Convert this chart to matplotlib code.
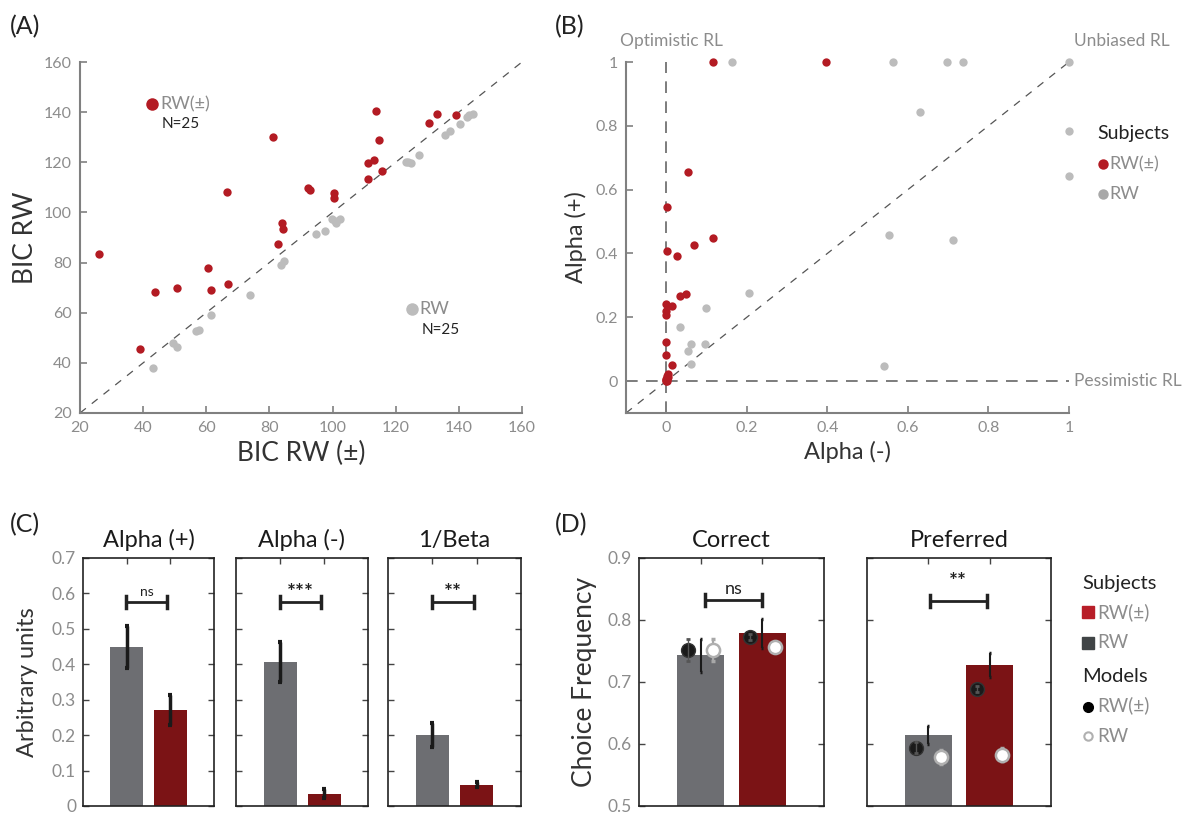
import numpy as np
import matplotlib
matplotlib.use('Agg')
import matplotlib.pyplot as plt

plt.rcParams['font.family'] = ['Lato', 'DejaVu Sans']

# ---- data ----
# (A) BIC, x = RW(+-), y = RW
a_red_x = [26.1, 39.0, 43.8, 50.8, 60.5, 61.6, 66.6, 66.9, 81.1, 82.8, 84.0, 84.3, 92.2,
           92.9, 100.4, 100.4, 111.1, 111.1, 113.1, 113.7, 114.7, 115.6, 130.5, 133.1, 139.1]
a_red_y = [83.4, 45.4, 68.4, 70.0, 77.7, 69.2, 108.3, 71.3, 130.0, 87.5, 95.9, 93.5, 109.9,
           108.8, 107.9, 105.9, 119.8, 113.2, 121.0, 140.6, 128.7, 116.4, 135.6, 139.4, 139.0]
a_gray_x = [43.2, 49.5, 50.8, 56.8, 57.6, 61.5, 74.0, 83.8, 84.7, 94.7, 97.7, 99.7, 101.0,
            102.2, 100.8, 123.1, 124.0, 124.7, 127.4, 135.6, 137.2, 140.5, 142.6, 143.3, 144.4]
a_gray_y = [38.1, 48.1, 46.4, 52.9, 53.2, 59.0, 67.2, 78.9, 80.6, 91.3, 92.6, 97.4, 95.7,
            97.4, 96.5, 120.3, 120.0, 119.6, 123.1, 130.7, 132.3, 135.4, 138.0, 139.0, 139.4]

# (B) learning rates, x = alpha(-), y = alpha(+)
b_red_x = [0.115, 0.396, 0.054, 0.001, 0.115, 0.069, 0.003, 0.026, 0.034, 0.048, 0.0, 0.015, 0.0,
           0.0, 0.0, 0.0, 0.015, 0.005, 0.004, 0.0, 0.0, 0.002, 0.0, 0.003, 0.001]
b_red_y = [1.0, 1.0, 0.655, 0.546, 0.447, 0.428, 0.409, 0.392, 0.268, 0.274, 0.243, 0.236, 0.220,
           0.206, 0.124, 0.081, 0.051, 0.021, 0.013, 0.005, 0.0, 0.007, 0.002, 0.016, 0.0]
b_gray_x = [0.163, 0.564, 0.697, 0.736, 1.0, 0.629, 1.0, 1.0, 0.552, 0.711, 0.206, 0.099,
            0.034, 0.062, 0.095, 0.054, 0.062, 0.541]
b_gray_y = [1.0, 1.0, 1.0, 1.0, 1.0, 0.842, 0.784, 0.644, 0.459, 0.443, 0.277, 0.229,
            0.171, 0.115, 0.115, 0.093, 0.055, 0.048]

# (C) parameters
c_titles = ['Alpha (+)', 'Alpha (-)', '1/Beta']
c_rw = [0.448, 0.406, 0.200]
c_rw_lo = [0.390, 0.349, 0.166]
c_rw_hi = [0.508, 0.463, 0.235]
c_pm = [0.270, 0.034, 0.059]
c_pm_lo = [0.230, 0.023, 0.053]
c_pm_hi = [0.312, 0.048, 0.068]
c_sig = ['ns', '***', '**']

# (D) choice frequency
d_titles = ['Correct', 'Preferred']
d_rw = [0.743, 0.615]
d_rw_lo = [0.716, 0.600]
d_rw_hi = [0.769, 0.629]
d_pm = [0.779, 0.728]
d_pm_lo = [0.755, 0.708]
d_pm_hi = [0.802, 0.746]
# model simulations: [on RW subjects, on RW(+-) subjects]
m_pm_on_rw = [0.752, 0.594]
m_pm_on_rw_err = [0.018, 0.009]
m_rw_on_rw = [0.752, 0.579]
m_rw_on_rw_err = [0.018, 0.011]
m_pm_on_pm = [0.773, 0.689]
m_pm_on_pm_err = [0.005, 0.005]
m_rw_on_pm = [0.757, 0.583]
m_rw_on_pm_err = [0.007, 0.010]
d_sig = ['ns', '**']

# ---- style ----
RED = '#b31b23'
LGRAY = '#bcbcbc'
BAR_GRAY = '#6d6e72'
BAR_RED = '#7b1315'
TICKC = '#8c8c8c'
LABC = '#333333'
SPINE = '#808080'

W, H = 1191, 814
fig = plt.figure(figsize=(W / 100, H / 100), dpi=100)


def box(x0, y0, x1, y1):
    return [x0 / W, 1 - y1 / H, (x1 - x0) / W, (y1 - y0) / H]


def scatter_style(ax):
    for s in ['top', 'right']:
        ax.spines[s].set_visible(False)
    for s in ['left', 'bottom']:
        ax.spines[s].set_color(SPINE)
        ax.spines[s].set_linewidth(1.5)
    ax.tick_params(direction='in', length=5, width=1.2, color=SPINE,
                   labelcolor=TICKC, labelsize=11.5, pad=6)


# ---- (A) ----
axA = fig.add_axes(box(80, 62, 522, 413))
axA.plot([20, 160], [20, 160], ls=(0, (6, 6)), color='#555555', lw=0.9, zorder=1)
axA.plot(a_gray_x, a_gray_y, 'o', color=LGRAY, ms=6, mec='none', zorder=2)
axA.plot(a_red_x, a_red_y, 'o', color=RED, ms=6, mec='none', zorder=3)
axA.set_xlim(20, 160)
axA.set_ylim(20, 160)
axA.set_xticks(np.arange(20, 161, 20))
axA.set_yticks(np.arange(20, 161, 20))
scatter_style(axA)
axA.set_xlabel('BIC RW (±)', fontsize=19, color=LABC, labelpad=4)
axA.set_ylabel('BIC RW', fontsize=19, color=LABC, labelpad=4)
axA.plot([42.7], [143.2], 'o', color=RED, ms=9, mec='none')
axA.text(45.3, 143.2, 'RW(±)', fontsize=13, color='#8c8c8c', va='center')
axA.text(46.0, 135.3, 'N=25', fontsize=11, color='#222222', va='center')
axA.plot([125.0], [61.3], 'o', color=LGRAY, ms=9, mec='none')
axA.text(127.6, 61.3, 'RW', fontsize=13, color='#8c8c8c', va='center')
axA.text(128.2, 53.0, 'N=25', fontsize=11, color='#222222', va='center')
fig.text(10 / W, 1 - 27 / H, '(A)', fontsize=18, color='#222222', va='center')

# ---- (B) ----
axB = fig.add_axes(box(626, 62, 1069, 413))
axB.plot([-0.1, 1], [-0.1, 1], ls=(0, (6, 6)), color='#555555', lw=0.9, zorder=1)
axB.plot([0, 0], [-0.1, 1], ls=(0, (7, 5)), color='#666666', lw=1.2, zorder=1)
axB.plot([-0.1, 1], [0, 0], ls=(0, (7, 5)), color='#666666', lw=1.2, zorder=1)
axB.plot(b_gray_x, b_gray_y, 'o', color=LGRAY, ms=6, mec='none', zorder=2, clip_on=False)
axB.plot(b_red_x, b_red_y, 'o', color=RED, ms=6, mec='none', zorder=3, clip_on=False)
axB.set_xlim(-0.1, 1)
axB.set_ylim(-0.1, 1)
axB.set_xticks([0, 0.2, 0.4, 0.6, 0.8, 1])
axB.set_xticklabels(['0', '0.2', '0.4', '0.6', '0.8', '1'])
axB.set_yticks([0, 0.2, 0.4, 0.6, 0.8, 1])
axB.set_yticklabels(['0', '0.2', '0.4', '0.6', '0.8', '1'])
scatter_style(axB)
axB.set_xlabel('Alpha (-)', fontsize=17, color=LABC, labelpad=4)
axB.set_ylabel('Alpha (+)', fontsize=17, color=LABC, labelpad=6)
axB.text(-0.115, 1.065, 'Optimistic RL', fontsize=12.5, color='#8c8c8c', va='center')
axB.text(1.012, 1.065, 'Unbiased RL', fontsize=12.5, color='#8c8c8c', va='center')
axB.text(1.012, 0.0, 'Pessimistic RL', fontsize=12.5, color='#8c8c8c', va='center')
axB.text(1.07, 0.775, 'Subjects', fontsize=14, color='#222222', va='center')
axB.plot([1.085], [0.68], 'o', color=RED, ms=7.5, mec='none', clip_on=False)
axB.text(1.1, 0.68, 'RW(±)', fontsize=13, color='#8c8c8c', va='center')
axB.plot([1.085], [0.585], 'o', color='#a8a8a8', ms=7.5, mec='none', clip_on=False)
axB.text(1.1, 0.585, 'RW', fontsize=13, color='#8c8c8c', va='center')
fig.text(555 / W, 1 - 27 / H, '(B)', fontsize=18, color='#222222', va='center')


def bar_style(ax, ylim, yticks, show_labels):
    ax.set_xlim(0, 3)
    ax.set_ylim(*ylim)
    ax.set_yticks(yticks)
    ax.set_xticks([1, 2])
    ax.tick_params(axis='x', direction='in', top=True, bottom=False, labelbottom=False,
                   length=4, width=1, color='#444444')
    ax.tick_params(axis='y', direction='in', left=True, right=True, length=4, width=1,
                   color='#444444', labelcolor=TICKC, labelsize=12.5, pad=5,
                   labelleft=show_labels)
    for s in ax.spines.values():
        s.set_color('#222222')
        s.set_linewidth(1.2)


def sig_bracket(ax, x0, x1, y, cap, text, bold, dy, fs):
    ax.plot([x0, x1], [y, y], color='#222222', lw=2)
    ax.plot([x0, x0], [y - cap, y + cap], color='#222222', lw=2.5)
    ax.plot([x1, x1], [y - cap, y + cap], color='#222222', lw=2.5)
    ax.text((x0 + x1) / 2, y + dy, text, ha='center', va='center', fontsize=fs,
            color='#222222', fontweight='bold' if bold else 'normal')


# ---- (C) ----
c_boxes = [(83, 558, 214, 806), (236, 558, 368, 806), (388, 558, 521, 806)]
for i in range(3):
    ax = fig.add_axes(box(*c_boxes[i]))
    ax.bar([1], [c_rw[i]], width=0.75, color=BAR_GRAY, zorder=1)
    ax.bar([2], [c_pm[i]], width=0.75, color=BAR_RED, zorder=1)
    ax.errorbar([1], [c_rw[i]], yerr=[[c_rw[i] - c_rw_lo[i]], [c_rw_hi[i] - c_rw[i]]],
                fmt='none', ecolor='#1a1a1a', elinewidth=2.5, capsize=1.5, capthick=3, zorder=3)
    ax.errorbar([2], [c_pm[i]], yerr=[[c_pm[i] - c_pm_lo[i]], [c_pm_hi[i] - c_pm[i]]],
                fmt='none', ecolor='#1a1a1a', elinewidth=2.5, capsize=1.5, capthick=3, zorder=3)
    bar_style(ax, (0, 0.7), np.arange(0, 0.71, 0.1), i == 0)
    if i == 0:
        ax.set_yticklabels(['0', '0.1', '0.2', '0.3', '0.4', '0.5', '0.6', '0.7'])
        ax.set_ylabel('Arbitrary units', fontsize=17, color=LABC, labelpad=10)
    ax.set_title(c_titles[i], fontsize=17, color='#1a1a1a', pad=8)
    if c_sig[i] == 'ns':
        sig_bracket(ax, 0.99, 1.93, 0.575, 0.017, 'ns', False, 0.03, 10)
    else:
        sig_bracket(ax, 0.99, 1.93, 0.575, 0.017, c_sig[i], True, 0.026, 15)
fig.text(10 / W, 1 - 525 / H, '(C)', fontsize=18, color='#222222', va='center')

# ---- (D) ----
d_boxes = [(639, 558, 824, 806), (867, 558, 1051, 806)]
for i in range(2):
    ax = fig.add_axes(box(*d_boxes[i]))
    ax.bar([1], [d_rw[i]], width=0.76, color=BAR_GRAY, zorder=1)
    ax.bar([2], [d_pm[i]], width=0.76, color=BAR_RED, zorder=1)
    ax.errorbar([1], [d_rw[i]], yerr=[[d_rw[i] - d_rw_lo[i]], [d_rw_hi[i] - d_rw[i]]],
                fmt='none', ecolor='#1a1a1a', elinewidth=1.5, capsize=1, capthick=2.5, zorder=4)
    ax.errorbar([2], [d_pm[i]], yerr=[[d_pm[i] - d_pm_lo[i]], [d_pm_hi[i] - d_pm[i]]],
                fmt='none', ecolor='#1a1a1a', elinewidth=1.5, capsize=1, capthick=2.5, zorder=4)
    # models
    for xpos, val, err in [(0.8, m_pm_on_rw[i], m_pm_on_rw_err[i]),
                           (1.8, m_pm_on_pm[i], m_pm_on_pm_err[i])]:
        ax.plot([xpos], [val], 'o', ms=10, mfc='#1a1a1a', mec='#333333', zorder=5)
        ax.errorbar([xpos], [val], yerr=[err], fmt='none', ecolor='#555555',
                    elinewidth=1, capsize=1.5, capthick=2, zorder=6)
    for xpos, val, err in [(1.2, m_rw_on_rw[i], m_rw_on_rw_err[i]),
                           (2.2, m_rw_on_pm[i], m_rw_on_pm_err[i])]:
        ax.errorbar([xpos], [val], yerr=[err], fmt='none', ecolor='#a8a8a8',
                    elinewidth=1.5, capsize=1.5, capthick=2.5, zorder=5)
        ax.plot([xpos], [val], 'o', ms=9.5, mfc='white', mec='#b0b0b0', mew=1.8, zorder=6)
    bar_style(ax, (0.5, 0.9), [0.5, 0.6, 0.7, 0.8, 0.9], i == 0)
    if i == 0:
        ax.set_yticklabels(['0.5', '0.6', '0.7', '0.8', '0.9'])
        ax.set_ylabel('Choice Frequency', fontsize=19, color=LABC, labelpad=8)
    ax.set_title(d_titles[i], fontsize=17, color='#1a1a1a', pad=8)
    if d_sig[i] == 'ns':
        sig_bracket(ax, 1.07, 1.99, 0.832, 0.01, 'ns', False, 0.018, 13)
    else:
        sig_bracket(ax, 1.02, 1.95, 0.831, 0.01, '**', True, 0.03, 15)
fig.text(555 / W, 1 - 525 / H, '(D)', fontsize=18, color='#222222', va='center')

# legend for (D)
fig.text(1082 / W, 1 - 583 / H, 'Subjects', fontsize=14.5, color='#222222', va='center')
fig.patches.append(plt.Rectangle((1082 / W, 1 - 618 / H), 12 / W, 12 / H,
                                 transform=fig.transFigure, color='#b81e28'))
fig.text(1097 / W, 1 - 612 / H, 'RW(±)', fontsize=13.5, color='#8c8c8c', va='center')
fig.patches.append(plt.Rectangle((1082 / W, 1 - 649 / H), 12 / W, 12 / H,
                                 transform=fig.transFigure, color='#404446'))
fig.text(1097 / W, 1 - 643 / H, 'RW', fontsize=13.5, color='#8c8c8c', va='center')
fig.text(1082 / W, 1 - 677 / H, 'Models', fontsize=14.5, color='#222222', va='center')
fig.lines.append(plt.Line2D([1088 / W], [1 - 707 / H], marker='o', ms=7, color='black',
                            transform=fig.transFigure))
fig.text(1097 / W, 1 - 705 / H, 'RW(±)', fontsize=13.5, color='#8c8c8c', va='center')
fig.lines.append(plt.Line2D([1088 / W], [1 - 736 / H], marker='o', ms=6, mfc='white',
                            mec='#b0b0b0', mew=1.5, transform=fig.transFigure))
fig.text(1097 / W, 1 - 736 / H, 'RW', fontsize=13.5, color='#8c8c8c', va='center')

fig.savefig('out.png', dpi=100)
